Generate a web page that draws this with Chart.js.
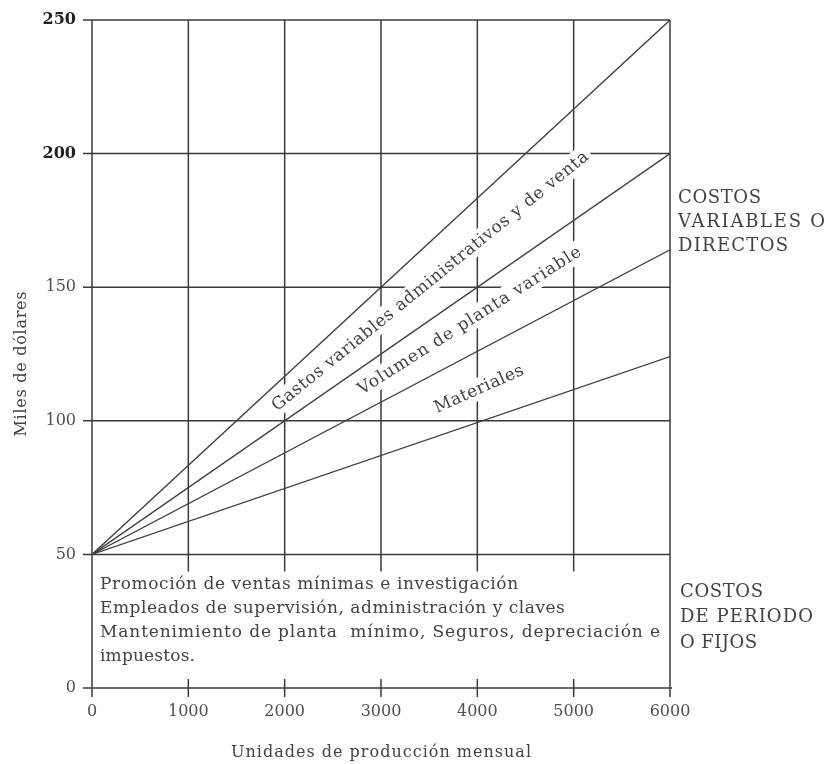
<!DOCTYPE html>
<html>
<head>
<meta charset="utf-8">
<script src="https://cdn.jsdelivr.net/npm/chart.js@4.4.1/dist/chart.umd.min.js"></script>
<style>
  html,body{margin:0;padding:0;background:#fff;}
  #wrap{width:827px;height:764px;}
</style>
</head>
<body>
<div id="wrap"><canvas id="chartCanvas" width="827" height="764"></canvas></div>
<script>
// -------- DATA --------
const unidades = [0, 6000];            // unidades de produccion mensual
const lineaGastos = [50, 250];         // tope gastos variables adm. y de venta
const lineaVolumen = [50, 200];        // tope volumen de planta variable
const lineaMateriales = [50, 164];     // tope materiales
const lineaBase = [50, 124];           // linea inferior
const xTicks = [0, 1000, 2000, 3000, 4000, 5000, 6000];
const yTicks = [0, 50, 100, 150, 200, 250];
const costoFijo = 50;

const textoFijos = [
  "Promoción de ventas mínimas e investigación",
  "Empleados de supervisión, administración y claves",
  "Mantenimiento de planta  mínimo, Seguros, depreciación e",
  "impuestos."
];
const textoVariables = ["COSTOS", "VARIABLES O", "DIRECTOS"];
const textoPeriodo = ["COSTOS", "DE PERIODO", "O FIJOS"];
const etiquetasLineas = [
  "Gastos variables administrativos y de venta",
  "Volumen de planta variable",
  "Materiales"
];

// -------- STYLE --------
const INK = '#3a3a3a';
const TXT = '#434343';
const SERIF = '"DejaVu Serif", "Liberation Serif", serif';

function pairs(ys){ return unidades.map((u,i)=>({x:u, y:ys[i]})); }

function drawText(ctx, txt, x, y, size, width, align){
  ctx.font = size + 'px ' + SERIF;
  if('letterSpacing' in ctx) ctx.letterSpacing = '0px';
  const w = ctx.measureText(txt).width;
  let total = w;
  if(width && 'letterSpacing' in ctx && txt.length > 1){
    const ls = (width - w) / (txt.length - 1);
    ctx.letterSpacing = ls.toFixed(2) + 'px';
    total = width;
  }
  let sx = x;
  if(align === 'center') sx = x - total/2;
  ctx.textAlign = 'left';
  ctx.fillText(txt, sx, y);
  if('letterSpacing' in ctx) ctx.letterSpacing = '0px';
}

// label placement: start point in data units, angle, length in px
const rotSpecs = [
  {x:1920, y:103.5, deg:-39, len:402, size:17},
  {x:2803, y:109.7, deg:-32.5, len:261, size:17},
  {x:3581, y:102.9, deg:-24, len:96, size:17}
];

function line(ctx, x1, y1, x2, y2){
  ctx.beginPath(); ctx.moveTo(x1,y1); ctx.lineTo(x2,y2); ctx.stroke();
}

const diagramPlugin = {
  id:'diagram',
  beforeDatasetsDraw(chart){
    const {ctx, scales:{x, y}} = chart;
    const x0 = x.getPixelForValue(0), x6 = x.getPixelForValue(6000);
    const y0 = y.getPixelForValue(0), yTop = y.getPixelForValue(250);
    const yFix = y.getPixelForValue(costoFijo);
    ctx.save();
    ctx.strokeStyle = INK;
    ctx.lineWidth = 1.5;
    // horizontal grid (50..250)
    yTicks.filter(v=>v>=costoFijo).forEach(v=>{
      const py = y.getPixelForValue(v);
      line(ctx, x0-9, py, x6, py);
    });
    // x axis
    line(ctx, x0-9, y0, x6+2, y0);
    // verticals
    xTicks.forEach(v=>{
      const px = x.getPixelForValue(v);
      if(v === 0 || v === 6000){
        line(ctx, px, y0+9, px, yTop);
      } else {
        line(ctx, px, yTop, px, yFix+17);
        line(ctx, px, y0-9, px, y0+9);
      }
    });
    // white boxes behind the slanted labels
    ctx.fillStyle = '#fff';
    rotSpecs.forEach(s=>{
      ctx.save();
      ctx.translate(x.getPixelForValue(s.x), y.getPixelForValue(s.y));
      ctx.rotate(s.deg*Math.PI/180);
      ctx.fillRect(-4, -s.size*0.95, s.len+8, s.size*1.3);
      ctx.restore();
    });
    ctx.restore();
  },
  afterDatasetsDraw(chart){
    const {ctx, scales:{x, y}} = chart;
    const x0 = x.getPixelForValue(0), x6 = x.getPixelForValue(6000);
    ctx.save();
    ctx.fillStyle = TXT;
    ctx.textBaseline = 'alphabetic';

    // slanted labels
    rotSpecs.forEach((s,i)=>{
      ctx.save();
      ctx.translate(x.getPixelForValue(s.x), y.getPixelForValue(s.y));
      ctx.rotate(s.deg*Math.PI/180);
      drawText(ctx, etiquetasLineas[i], 0, 0, s.size, s.len, 'left');
      ctx.restore();
    });

    // fixed cost text block
    const fijosY = [37, 28, 19, 10];
    const fijosW = [418, 465, 560, 95];
    textoFijos.forEach((t,i)=>{
      drawText(ctx, t, x0+8, y.getPixelForValue(fijosY[i]), 17, fijosW[i], 'left');
    });

    // right side labels
    const varY = [181.5, 172.5, 163.5];
    const varW = [83, 147, 110];
    textoVariables.forEach((t,i)=>{
      drawText(ctx, t, x6+8, y.getPixelForValue(varY[i]), 18, varW[i], 'left');
    });
    const perY = [34, 24.7, 15];
    const perW = [83, 133, 77];
    textoPeriodo.forEach((t,i)=>{
      drawText(ctx, t, x6+10, y.getPixelForValue(perY[i]), 18, perW[i], 'left');
    });

    // axis titles
    drawText(ctx, "Unidades de producción mensual", (x0+x6)/2, 757, 16, 300, 'center');
    ctx.save();
    ctx.translate(26, 364);
    ctx.rotate(-Math.PI/2);
    drawText(ctx, "Miles de dólares", 0, 0, 16, 145, 'center');
    ctx.restore();

    ctx.restore();
  }
};

const lineStyle = {borderColor:'#404040', borderWidth:1.3, pointRadius:0, showLine:true, fill:false};

new Chart(document.getElementById('chartCanvas'), {
  type:'scatter',
  data:{
    datasets:[
      Object.assign({label:'Gastos variables', data:pairs(lineaGastos)}, lineStyle),
      Object.assign({label:'Volumen de planta', data:pairs(lineaVolumen)}, lineStyle),
      Object.assign({label:'Materiales', data:pairs(lineaMateriales)}, lineStyle),
      Object.assign({label:'Base', data:pairs(lineaBase)}, lineStyle)
    ]
  },
  options:{
    responsive:false,
    devicePixelRatio:1,
    animation:false,
    layout:{padding:{left:0, right:157, top:20, bottom:0}},
    plugins:{legend:{display:false}, tooltip:{enabled:false}},
    scales:{
      x:{
        type:'linear', min:0, max:6000,
        afterBuildTicks:s=>{ s.ticks = xTicks.map(v=>({value:v})); },
        afterFit:s=>{ s.height = 76; s.paddingLeft = 0; s.paddingRight = 0; },
        grid:{display:false, drawTicks:false},
        border:{display:false},
        ticks:{padding:14, color:'#505050', font:{family:SERIF, size:16}, maxRotation:0,
          callback:v=>String(v)}
      },
      y:{
        type:'linear', min:0, max:250,
        afterBuildTicks:s=>{ s.ticks = yTicks.map(v=>({value:v})); },
        afterFit:s=>{ s.width = 92; s.paddingTop = 0; s.paddingBottom = 0; },
        grid:{display:false, drawTicks:false},
        border:{display:false},
        ticks:{
          padding:16,
          callback:v=>String(v),
          color:c=> c.tick && c.tick.value >= 200 ? '#222' : '#505050',
          font:c=> ({family:SERIF, size:16, weight: c.tick && c.tick.value >= 200 ? 'bold' : 'normal'})
        }
      }
    }
  },
  plugins:[diagramPlugin]
});
</script>
</body>
</html>
